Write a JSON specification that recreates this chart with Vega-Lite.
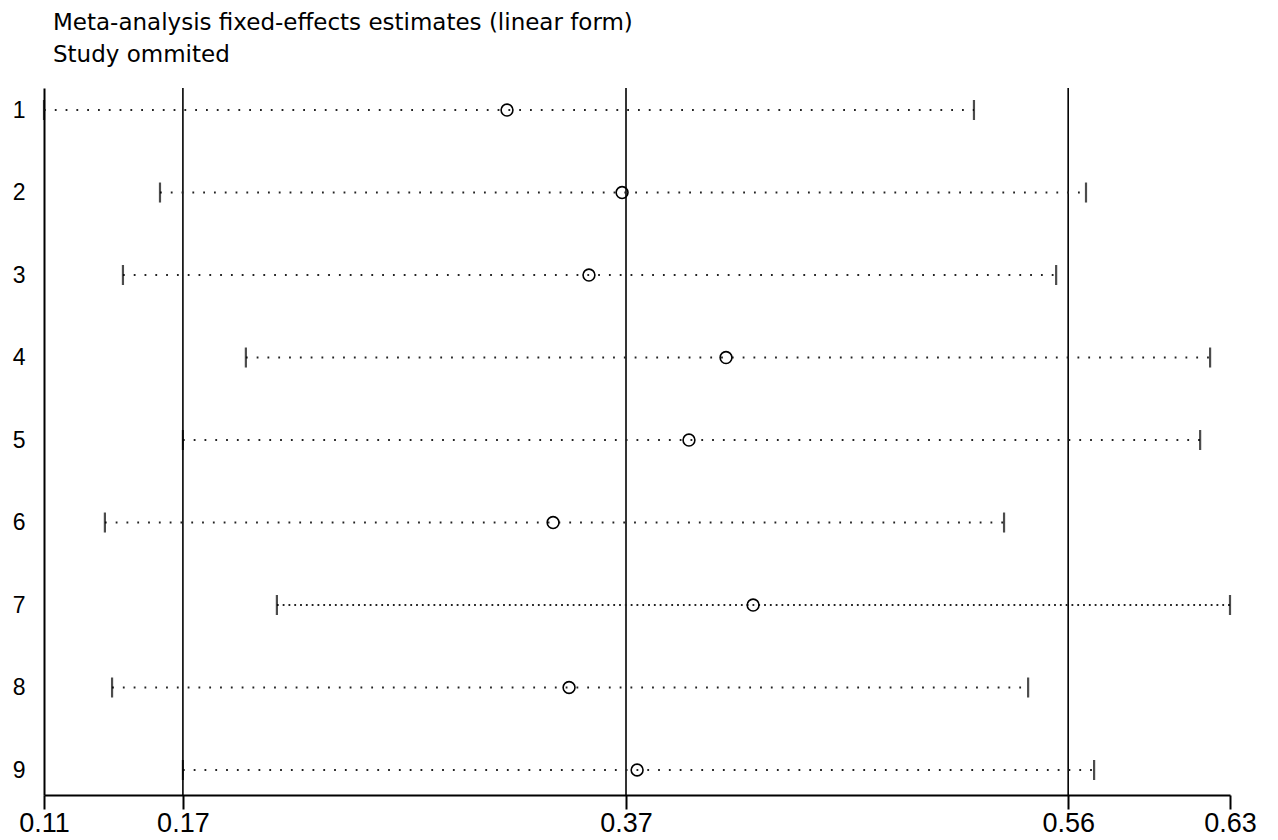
{
  "$schema": "https://vega.github.io/schema/vega-lite/v6.json",
  "width": 1186,
  "height": 707,
  "autosize": {"type": "none"},
  "padding": {"left": 44, "top": 88, "right": 48, "bottom": 45},
  "background": "white",
  "title": {
    "text": ["Meta-analysis fixed-effects estimates (linear form)", "Study ommited"],
    "anchor": "start",
    "frame": "group",
    "dx": 9,
    "offset": 20,
    "font": "DejaVu Sans",
    "fontSize": 23,
    "fontWeight": "normal",
    "lineHeight": 32,
    "color": "black"
  },
  "config": {
    "view": {"stroke": null},
    "axis": {"grid": false, "domainColor": "black", "domainWidth": 2, "labelColor": "black", "labelFont": "Liberation Sans, Arial, sans-serif", "title": null}
  },
  "datasets": {
    "studies": [
      {"study": 1, "est": 0.3146, "lo": 0.1146, "hi": 0.5163},
      {"study": 2, "est": 0.3643, "lo": 0.1647, "hi": 0.5647},
      {"study": 3, "est": 0.3500, "lo": 0.1487, "hi": 0.5518},
      {"study": 4, "est": 0.4092, "lo": 0.2018, "hi": 0.6183},
      {"study": 5, "est": 0.3932, "lo": 0.1746, "hi": 0.6140},
      {"study": 6, "est": 0.3345, "lo": 0.1409, "hi": 0.5293},
      {"study": 7, "est": 0.4209, "lo": 0.2152, "hi": 0.6269},
      {"study": 8, "est": 0.3414, "lo": 0.1440, "hi": 0.5397},
      {"study": 9, "est": 0.3708, "lo": 0.1746, "hi": 0.5682}
    ],
    "overall": [
      {"value": 0.1746},
      {"value": 0.366},
      {"value": 0.557}
    ]
  },
  "layer": [
    {
      "data": {"name": "overall"},
      "mark": {"type": "rule", "color": "black", "strokeWidth": 1.6},
      "encoding": {
        "x": {"field": "value", "type": "quantitative"}
      }
    },
    {
      "data": {"name": "studies"},
      "transform": [{"filter": "datum.study != 7"}],
      "mark": {"type": "rule", "color": "#222", "strokeWidth": 2, "strokeDash": [1.8, 9]},
      "encoding": {
        "x": {"field": "lo", "type": "quantitative"},
        "x2": {"field": "hi"},
        "y": {"field": "study", "type": "quantitative"}
      }
    },
    {
      "data": {"name": "studies"},
      "transform": [{"filter": "datum.study == 7"}],
      "mark": {"type": "rule", "color": "#222", "strokeWidth": 2, "strokeDash": [1.8, 4]},
      "encoding": {
        "x": {"field": "lo", "type": "quantitative"},
        "x2": {"field": "hi"},
        "y": {"field": "study", "type": "quantitative"}
      }
    },
    {
      "data": {"name": "studies"},
      "transform": [{"fold": ["lo", "hi"], "as": ["bound", "bval"]}],
      "mark": {"type": "tick", "orient": "vertical", "color": "black", "size": 20, "thickness": 2.2},
      "encoding": {
        "x": {"field": "bval", "type": "quantitative"},
        "y": {"field": "study", "type": "quantitative"}
      }
    },
    {
      "data": {"name": "studies"},
      "mark": {"type": "point", "shape": "circle", "filled": false, "color": "black", "strokeWidth": 1.6, "size": 140, "opacity": 1},
      "encoding": {
        "x": {
          "field": "est", "type": "quantitative",
          "scale": {"domain": [0.1146, 0.6269], "nice": false, "zero": false},
          "axis": {
            "values": [0.1146, 0.1746, 0.366, 0.557, 0.6269],
            "format": ".2f",
            "labelFont": "Liberation Sans, Arial, sans-serif",
            "labelFontSize": 27,
            "labelPadding": 1,
            "ticks": true,
            "tickSize": 14,
            "tickWidth": 2,
            "tickColor": "black",
            "labelFlush": false,
            "labelOverlap": false
          }
        },
        "y": {
          "field": "study", "type": "quantitative",
          "scale": {"domain": [0.733, 9.303], "reverse": true, "nice": false, "zero": false},
          "axis": {
            "values": [1, 2, 3, 4, 5, 6, 7, 8, 9],
            "format": "d",
            "labelFont": "Liberation Sans, Arial, sans-serif",
            "labelFontSize": 23,
            "ticks": false,
            "labelPadding": 19
          }
        }
      }
    }
  ]
}
